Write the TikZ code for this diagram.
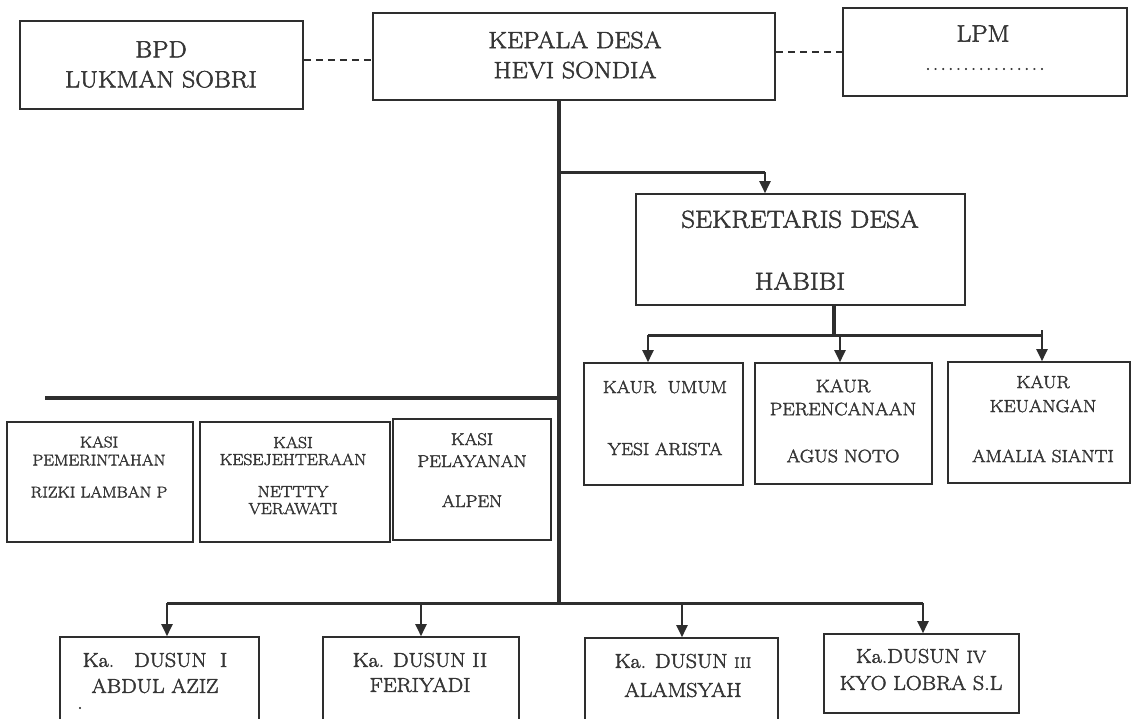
\documentclass[tikz,border=0pt]{standalone}
\usepackage{fontspec}
\setmainfont{Latin Modern Roman}[FakeStretch=1.1, FakeBold=2.2]
\usetikzlibrary{arrows.meta}
\definecolor{ink}{HTML}{2E2E2E}
\definecolor{txt}{HTML}{353535}
\tikzset{
  box/.style={draw=ink, line width=1.6pt, inner sep=0pt, rectangle},
  lbl/.style={text=txt, align=center, inner sep=0pt},
  trunkline/.style={draw=ink, line width=3.2pt},
  busline/.style={draw=ink, line width=3pt},
  arrline/.style={draw=ink, line width=2pt, -{Triangle[width=11pt,length=12pt]}},
  dashline/.style={draw=ink, line width=1.3pt, dash pattern=on 7pt off 5pt}
}
\newcommand{\fs}[2]{\fontsize{#1}{#2}\selectfont}
\newcommand{\dotrow}[1]{\makebox[#1]{\cleaders\hbox to 7.6pt{\hss.\hss}\hfill}}
\begin{document}
\begin{tikzpicture}[x=1pt,y=-1pt]
\useasboundingbox (0,0) rectangle (1135,718);
% ---- boxes
\node[box, minimum width=283pt, minimum height=88pt] (bpd) at (161.5,65) {};
\node[box, minimum width=402pt, minimum height=87pt] (kep) at (574,56.5) {};
\node[box, minimum width=284pt, minimum height=88pt] (lpm) at (985,52) {};
\node[box, minimum width=329pt, minimum height=111pt] (sek) at (800.5,249.5) {};
\node[box, minimum width=159pt, minimum height=122pt] (k1) at (663.5,424) {};
\node[box, minimum width=177pt, minimum height=121pt] (k2) at (843.5,423.5) {};
\node[box, minimum width=182pt, minimum height=121pt] (k3) at (1039,422.5) {};
\node[box, minimum width=186pt, minimum height=120pt] (s1) at (100,482) {};
\node[box, minimum width=190pt, minimum height=120pt] (s2) at (295,482) {};
\node[box, minimum width=158pt, minimum height=121pt] (s3) at (472,479.5) {};
\node[box, minimum width=199pt, minimum height=93pt] (d1) at (159.5,683.5) {};
\node[box, minimum width=196pt, minimum height=93pt] (d2) at (421,683.5) {};
\node[box, minimum width=193pt, minimum height=92pt] (d3) at (681.5,684) {};
\node[box, minimum width=195pt, minimum height=79pt] (d4) at (921.5,673.5) {};
% ---- texts
\node[lbl, font=\fs{23.5}{30}] (bpdT) at (161,64.5) {BPD\\LUKMAN SOBRI};
\node[lbl, font=\fs{23.5}{30}] (kepT) at (575,55) {KEPALA DESA\\HEVI SONDIA};
\node[lbl, font=\fs{23.5}{28}] (lpmT) at (983,33.5) {LPM};
\node[lbl, font=\fs{19}{20}] (lpmD) at (985,69) {\dotrow{122pt}};
\node[lbl, font=\fs{24.5}{62}] (sekT) at (800,250) {SEKRETARIS DESA\\HABIBI};
\node[lbl, font=\fs{17.5}{62}] (k1T) at (665,418) {KAUR\ \ UMUM\\YESI ARISTA};
\node[lbl, font=\fs{18}{23}] (k2T) at (843,421) {KAUR\\PERENCANAAN\\[24pt]AGUS NOTO};
\node[lbl, font=\fs{17.5}{24}] (k3T) at (1043,419) {KAUR\\KEUANGAN\\[26pt]AMALIA SIANTI};
\node[lbl, font=\fs{15.5}{18}] (s1T) at (99,467) {KASI\\PEMERINTAHAN\\[14pt]RIZKI LAMBAN P};
\node[lbl, font=\fs{16}{17}] (s2T) at (293,475.5) {KASI\\KESEJEHTERAAN\\[15pt]NETTTY\\VERAWATI};
\node[lbl, font=\fs{17}{22}] (s3T) at (472,470) {KASI\\PELAYANAN\\[18pt]ALPEN};
\node[lbl, font=\fs{20}{26}] (d1T) at (155,673) {Ka.\ \ \ DUSUN\ \ I\\ABDUL AZIZ};
\node[lbl, font=\fs{20}{8}] (d1dot) at (80,708) {.};
\node[lbl, font=\fs{20}{25}] (d2T) at (420,672.5) {Ka. DUSUN II\\FERIYADI};
\node[lbl, font=\fs{20}{29}] (d3T) at (683,675.5) {Ka. DUSUN {\fs{15}{15}III}\\ALAMSYAH};
\node[lbl, font=\fs{20}{27}] (d4T) at (921,669.5) {Ka.DUSUN {\fs{17.5}{17}IV}\\KYO LOBRA S.L};
% ---- coordinates
\coordinate (tr) at (559,0);
\coordinate (trbot) at (559,603);
\coordinate (sekbr) at (765,172);
\coordinate (kbus) at (834,335);
\coordinate (kb1) at (648,335);
\coordinate (kb2) at (840,335);
\coordinate (kb3) at (1042,335);
\coordinate (kasiL) at (45,398);
\coordinate (db1) at (167,603);
\coordinate (db2) at (421,603);
\coordinate (db3) at (682,603);
\coordinate (db4) at (923,603);
% ---- connectors
\draw[dashline] (bpd.east |- 0,60) -- (kep.west |- 0,60);
\draw[dashline] (kep.east |- 0,52) -- (lpm.west |- 0,52);
\draw[trunkline] (kep.south -| tr) -- (trbot);
\draw[busline] (tr |- sekbr) -- (sekbr);
\draw[arrline] (sekbr) -- (sek.north -| sekbr);
\draw[trunkline] (sek.south -| kbus) -- (kbus);
\draw[busline] (kb1) -- (kb3);
\draw[arrline] (kb1) -- (k1.north -| kb1);
\draw[arrline] (kb2) -- (k2.north -| kb2);
\draw[arrline] ([yshift=5pt]kb3) -- (k3.north -| kb3);
\draw[trunkline] (tr |- kasiL) -- (kasiL);
\draw[busline] (db1) -- (db4);
\draw[arrline] (db1) -- (d1.north -| db1);
\draw[arrline] (db2) -- (d2.north -| db2);
\draw[arrline] (db3) -- (d3.north -| db3);
\draw[arrline] (db4) -- (d4.north -| db4);
\end{tikzpicture}
\end{document}
